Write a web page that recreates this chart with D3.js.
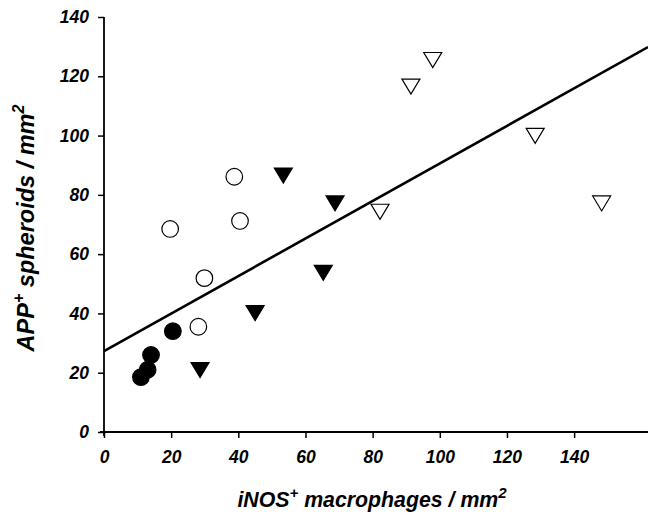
<!DOCTYPE html>
<html><head><meta charset="utf-8">
<script src="https://cdn.jsdelivr.net/npm/d3@7"></script>
<style>body{margin:0;background:#fff}svg{display:block}text{font-family:"Liberation Sans",Arial,sans-serif;font-style:italic;font-weight:bold}</style>
</head><body>
<svg id="c" width="648" height="521"></svg>
<script>
const xTicks = [0,20,40,60,80,100,120,140];
const yTicks = [0,20,40,60,80,100,120,140];
const filledCircles = [[14,26],[13,21],[11,18.5],[20.5,34]];
const openCircles = [[19.7,68.5],[38.8,86.1],[40.5,71.2],[29.9,51.9],[28.1,35.5]];
const filledTriangles = [[53.4,86.5],[68.8,77.1],[65.3,53.7],[28.6,20.9],[45,40.1]];
const openTriangles = [[97.9,125.5],[91.4,116.5],[128.4,99.9],[82.2,74.3],[148.2,77.1]];
const regression = {intercept: 27.3, slope: 0.633};

const svg = d3.select("#c");
const x = d3.scaleLinear().domain([0,162]).range([104,648]);
const y = d3.scaleLinear().domain([0,140]).range([432,17]);

// axes
const xa = svg.append("g").attr("transform","translate(0,432)")
  .call(d3.axisBottom(x).tickValues(xTicks).tickSize(6).tickSizeOuter(0).tickFormat(d3.format("d")));
const ya = svg.append("g").attr("transform","translate(104,0)")
  .call(d3.axisLeft(y).tickValues(yTicks).tickSize(6).tickSizeOuter(0).tickFormat(d3.format("d")));
[xa,ya].forEach(a=>{
  a.select(".domain").attr("stroke","#000").attr("stroke-width",1.8);
  a.selectAll(".tick line").attr("stroke","#000").attr("stroke-width",1.5);
  a.selectAll(".tick text").attr("font-size",17.5).attr("fill","#000")
   .style("font-family",'"Liberation Sans",Arial,sans-serif').style("font-style","italic").style("font-weight","bold");
});
xa.select(".domain").attr("d","M100,0H648");
ya.select(".domain").attr("d","M0,"+y(140)+"V436");
xa.selectAll(".tick text").attr("dy","0.71em").attr("y",19);
ya.selectAll(".tick text").attr("x",-15);

// regression line
svg.append("line")
  .attr("x1",x(0)).attr("y1",y(regression.intercept))
  .attr("x2",x(162)).attr("y2",y(regression.intercept+regression.slope*162))
  .attr("stroke","#000").attr("stroke-width",2.6);

// markers
const r = 8.3;
function circ(data, fill){
  svg.append("g").selectAll("circle").data(data).join("circle")
    .attr("cx",d=>x(d[0])).attr("cy",d=>y(d[1])).attr("r",r)
    .attr("fill",fill).attr("stroke","#000").attr("stroke-width",1.2);
}
function tri(data, fill){
  const w=9, h=7.5;
  svg.append("g").selectAll("path").data(data).join("path")
    .attr("d",d=>{const cx=x(d[0]),cy=y(d[1]);return `M${cx-w},${cy-h}L${cx+w},${cy-h}L${cx},${cy+h}Z`;})
    .attr("fill",fill).attr("stroke","#000").attr("stroke-width",1.2).attr("stroke-linejoin","miter");
}
circ(openCircles,"#fff");
circ(filledCircles,"#000");
tri(filledTriangles,"#000");
tri(openTriangles,"#fff");

// axis titles
const xt = svg.append("text").attr("x",372).attr("y",507).attr("text-anchor","middle").attr("font-size",21.3);
xt.append("tspan").text("iNOS");
xt.append("tspan").text("+").attr("dy",-9).attr("font-size",15);
xt.append("tspan").text(" macrophages / mm").attr("dy",9);
xt.append("tspan").text("2").attr("dy",-9).attr("font-size",15);

const yt = svg.append("text").attr("transform","translate(34,228) rotate(-90)").attr("text-anchor","middle").attr("font-size",23.5);
yt.append("tspan").text("APP");
yt.append("tspan").text("+").attr("dy",-10).attr("font-size",16);
yt.append("tspan").text(" spheroids / mm").attr("dy",10);
yt.append("tspan").text("2").attr("dy",-10).attr("font-size",16);
</script>
</body></html>
